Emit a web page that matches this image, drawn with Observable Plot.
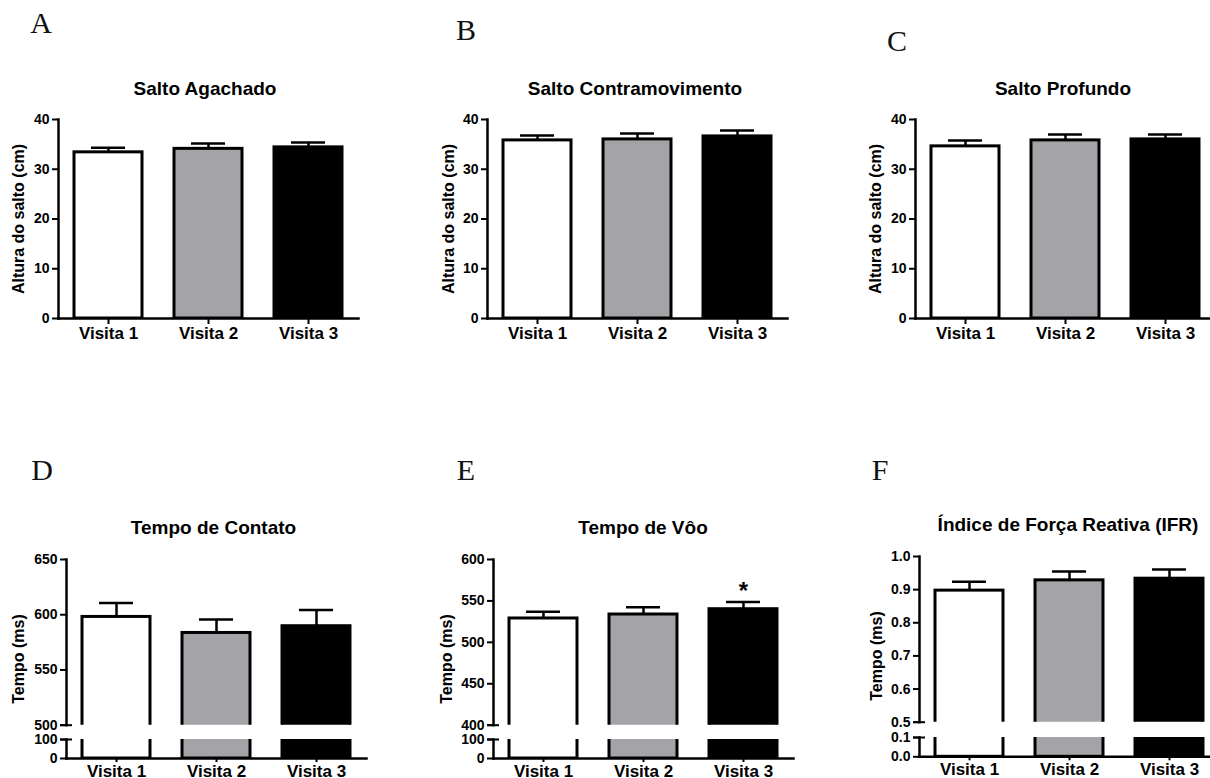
<!DOCTYPE html>
<html>
<head>
<meta charset="utf-8">
<script src="https://cdn.jsdelivr.net/npm/d3@7"></script>
<script src="https://cdn.jsdelivr.net/npm/@observablehq/plot@0.6"></script>
<style>
  html, body { margin: 0; padding: 0; background: #fff; }
  #root { position: relative; width: 1210px; height: 778px; overflow: hidden; background: #fff; }
  .abs { position: absolute; }
  .title { position: absolute; font-family: "Liberation Sans", Arial, sans-serif; font-weight: bold; font-size: 19px; color: #000; white-space: nowrap; transform: translate(-50%, -50%); }
  .ylab { position: absolute; font-family: "Liberation Sans", Arial, sans-serif; font-weight: bold; font-size: 16px; color: #000; white-space: nowrap; transform: translate(-50%, -50%) rotate(-90deg); }
  .letter { position: absolute; font-family: "Liberation Serif", "DejaVu Serif", serif; font-size: 30px; color: #111; transform: translate(-50%, -50%); line-height: 1; }
</style>
</head>
<body>
<div id="root"></div>
<script>
// ---------- data ----------
const visits = ["Visita 1", "Visita 2", "Visita 3"];
const barFills = ["#ffffff", "#a3a3a8", "#000000"];

const saltoAgachado = [33.4, 34.1, 34.4];
const saltoAgachadoErr = [0.9, 1.1, 1.0];
const saltoContramovimento = [35.8, 36.0, 36.6];
const saltoContramovimentoErr = [1.0, 1.2, 1.2];
const saltoProfundo = [34.6, 35.8, 36.0];
const saltoProfundoErr = [1.2, 1.2, 1.0];
const tempoContato = [598, 583.5, 589.6];
const tempoContatoErr = [12.7, 12.1, 14.7];
const tempoVoo = [528.8, 533.6, 540.0];
const tempoVooErr = [8.0, 8.8, 8.8];
const ifr = [0.897, 0.928, 0.933];
const ifrErr = [0.027, 0.027, 0.028];
const tempoVooStars = ["", "", "*"];

const saltoTicks = [0, 10, 20, 30, 40];
const contatoTicksTop = [500, 550, 600, 650];
const contatoTicksBottom = [0, 100];
const vooTicksTop = [400, 450, 500, 550, 600];
const vooTicksBottom = [0, 100];
const ifrTicksTop = [0.5, 0.6, 0.7, 0.8, 0.9, 1.0];
const ifrTicksBottom = [0.0, 0.1];

const panelLetters = ["A", "B", "C", "D", "E", "F"];
const panelTitles = ["Salto Agachado", "Salto Contramovimento", "Salto Profundo",
  "Tempo de Contato", "Tempo de Vôo", "Índice de Força Reativa (IFR)"];
const yLabels = ["Altura do salto (cm)", "Altura do salto (cm)", "Altura do salto (cm)",
  "Tempo (ms)", "Tempo (ms)", "Tempo (ms)"];

// ---------- drawing ----------
const FONT = '"Liberation Sans", Arial, sans-serif';
const root = document.getElementById("root");

function segment(o) {
  const {values, errs, stars, domain, ticks, fmt, x0, x1, yTop, yBot, xAxis, xTick, breakAt, mode} = o;
  const mL = 60, mR = 10, mT = 20, mB = xAxis ? 40 : 10;
  const [lo, hi] = domain;
  const span = hi - lo;
  const data = visits.map((v, i) => ({
    visit: v, mean: values[i], hi: values[i] + errs[i], star: stars ? stars[i] : ""
  }));
  const marks = [
    Plot.barY(data, {
      x: "visit",
      y1: mode === "upper" ? lo - span : lo,
      y2: mode === "lower" ? hi + span : "mean",
      fill: "visit", stroke: "#000", strokeWidth: 3, clip: true
    })
  ];
  if (mode !== "lower") {
    marks.push(Plot.ruleX(data, {x: "visit", y1: "mean", y2: "hi", stroke: "#000", strokeWidth: 2.5}));
    marks.push(Plot.tickY(data, {x: "visit", y: "hi", insetLeft: 17, insetRight: 17, stroke: "#000", strokeWidth: 2.5}));
    if (stars) {
      marks.push(Plot.text(data, {x: "visit", y: "hi", text: "star", dy: -3, lineAnchor: "bottom",
        fontSize: 24, fontWeight: "bold", fill: "#000"}));
    }
  }
  marks.push(Plot.frame({anchor: "left", stroke: "#000", strokeWidth: 2.5, strokeLinecap: "square"}));
  if (xAxis) marks.push(Plot.frame({anchor: "bottom", stroke: "#000", strokeWidth: 2.5, strokeLinecap: "square"}));
  marks.push(Plot.axisY({ticks, tickFormat: fmt, tickSize: 6, tickPadding: 3, fontSize: 14,
    fontWeight: "bold", strokeWidth: 2, label: null}));
  if (breakAt != null) {
    marks.push(Plot.axisY({ticks: [breakAt], tickSize: 12, dx: 6, tickFormat: () => "",
      strokeWidth: 2, label: null}));
  }
  if (xAxis) {
    marks.push(Plot.axisX({tickSize: xTick, tickPadding: 2, fontSize: 17, fontWeight: "bold",
      strokeWidth: 2, label: null}));
  }
  const svg = Plot.plot({
    width: (x1 - x0) + mL + mR,
    height: (yBot - yTop) + mT + mB,
    marginLeft: mL, marginRight: mR, marginTop: mT, marginBottom: mB,
    style: {background: "transparent", overflow: "visible", fontFamily: FONT, fontWeight: "bold",
      fontSize: "14px", color: "#000", maxWidth: "none"},
    x: {domain: visits, paddingInner: 0.32, paddingOuter: 0.16, axis: null},
    y: {domain, axis: null},
    color: {domain: visits, range: barFills},
    marks
  });
  svg.classList.add("abs");
  svg.style.left = (x0 - mL) + "px";
  svg.style.top = (yTop - mT) + "px";
  root.appendChild(svg);
}

function html(cls, text, x, y) {
  const d = document.createElement("div");
  d.className = cls;
  d.textContent = text;
  d.style.left = x + "px";
  d.style.top = y + "px";
  root.appendChild(d);
}

// layout
const topRow = {yTop: 119, yBot: 318};
const topX = [[58, 358], [487, 787], [915, 1215]];
const botX = [[65.5, 365.5], [493, 793], [919, 1219]];

// top row panels
[[saltoAgachado, saltoAgachadoErr], [saltoContramovimento, saltoContramovimentoErr], [saltoProfundo, saltoProfundoErr]]
  .forEach(([v, e], i) => {
    segment({values: v, errs: e, domain: [0, 40], ticks: saltoTicks, fmt: d3.format("d"),
      x0: topX[i][0], x1: topX[i][1], yTop: topRow.yTop, yBot: topRow.yBot, xAxis: true, xTick: 6, mode: "full"});
  });

// bottom row panels (broken axes)
const bottomDefs = [
  {values: tempoContato, errs: tempoContatoErr, dom: [500, 650], ticksT: contatoTicksTop, domB: [0, 100], ticksB: contatoTicksBottom, fmt: d3.format("d"), y: [559.3, 725, 739.3, 758.3]},
  {values: tempoVoo, errs: tempoVooErr, stars: tempoVooStars, dom: [400, 600], ticksT: vooTicksTop, domB: [0, 100], ticksB: vooTicksBottom, fmt: d3.format("d"), y: [559.3, 725, 739.3, 758.3]},
  {values: ifr, errs: ifrErr, dom: [0.5, 1.0], ticksT: ifrTicksTop, domB: [0, 0.1], ticksB: ifrTicksBottom, fmt: d3.format(".1f"), y: [556, 721.7, 736.7, 756]}
];
bottomDefs.forEach((p, i) => {
  segment({values: p.values, errs: p.errs, stars: p.stars, domain: p.dom, ticks: p.ticksT, fmt: p.fmt,
    x0: botX[i][0], x1: botX[i][1], yTop: p.y[0], yBot: p.y[1], xAxis: false, breakAt: p.dom[0], mode: "upper"});
  segment({values: p.values, errs: p.errs, domain: p.domB, ticks: p.ticksB, fmt: p.fmt,
    x0: botX[i][0], x1: botX[i][1], yTop: p.y[2], yBot: p.y[3], xAxis: true, xTick: 4, breakAt: p.domB[1], mode: "lower"});
});

// titles, y labels, panel letters
const titlePos = [[205, 89], [635, 89], [1063, 89], [213.5, 528], [643, 528], [1068, 525]];
const ylabPos = [[19, 219], [448.5, 219], [876, 219], [19, 659], [447, 659], [876.5, 656]];
const letterPos = [[41, 23], [466, 30], [897, 41], [42, 470], [466, 470], [880, 470]];
panelTitles.forEach((t, i) => html("title", t, titlePos[i][0], titlePos[i][1]));
yLabels.forEach((t, i) => html("ylab", t, ylabPos[i][0], ylabPos[i][1]));
panelLetters.forEach((t, i) => html("letter", t, letterPos[i][0], letterPos[i][1]));
</script>
</body>
</html>
